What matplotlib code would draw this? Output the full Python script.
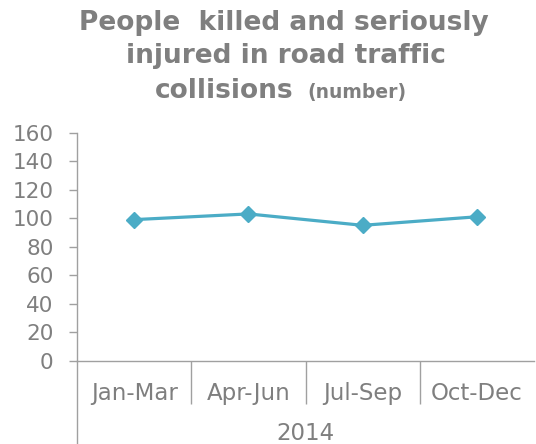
import matplotlib
matplotlib.use("Agg")
import matplotlib.pyplot as plt
from matplotlib.lines import Line2D
from matplotlib.transforms import blended_transform_factory

categories = ["Jan-Mar", "Apr-Jun", "Jul-Sep", "Oct-Dec"]
values = [99, 103, 95, 101]
year_label = "2014"
yticks = [0, 20, 40, 60, 80, 100, 120, 140, 160]

title_lines = ["People  killed and seriously", "injured in road traffic", "collisions"]
title_unit = "(number)"

W, H, DPI = 536, 444, 100
TEXT = "#7f7f7f"
AXIS = "#a0a0a0"
LINE = "#4bacc6"
FONT = "DejaVu Sans"

fig = plt.figure(figsize=(W / DPI, H / DPI), dpi=DPI)
fig.patch.set_facecolor("white")

x0, x1 = 77, 534
y0, y1 = 360.7, 132.7
ax = fig.add_axes([x0 / W, 1 - y0 / H, (x1 - x0) / W, (y0 - y1) / H])

xs = list(range(len(categories)))
ax.plot(xs, values, color=LINE, lw=2.3, marker="D", markersize=8.5,
        markerfacecolor=LINE, markeredgecolor=LINE, clip_on=False, zorder=3)

ax.set_xlim(-0.5, len(categories) - 0.5)
ax.set_ylim(0, 160)
ax.set_yticks(yticks)
ax.set_yticklabels([str(v) for v in yticks], fontsize=15.5, color=TEXT, family=FONT)
ax.tick_params(axis="y", length=5.5, width=1, color=AXIS, pad=11.5)

ax.set_xticks(xs)
ax.set_xticklabels([])
ax.tick_params(axis="x", which="major", length=0)
ax.set_xticks([i + 0.5 for i in xs[:-1]], minor=True)
ax.tick_params(axis="x", which="minor", length=31, width=1, color=AXIS, direction="out")

for s in ["top", "right"]:
    ax.spines[s].set_visible(False)
for s in ["left", "bottom"]:
    ax.spines[s].set_color(AXIS)
    ax.spines[s].set_linewidth(1)

trans = blended_transform_factory(ax.transData, ax.transAxes)
ph = y0 - y1
for i, c in enumerate(categories):
    ax.text(i, (y0 - 393) / ph, c, transform=trans, ha="center", va="center",
            fontsize=16.5, color=TEXT, family=FONT)
ax.text(0.5, (y0 - 433) / ph, year_label, transform=ax.transAxes, ha="center",
        va="center", fontsize=16.5, color=TEXT, family=FONT)

# left axis line continues down through the category area
fig.add_artist(Line2D([x0 / W, x0 / W], [0, 1 - y0 / H], color=AXIS, lw=1))

# title
fig.text(284 / W, 1 - 30 / H, title_lines[0], ha="center", va="baseline",
         fontsize=19, fontweight="bold", color=TEXT, family=FONT)
fig.text(286 / W, 1 - 63 / H, title_lines[1], ha="center", va="baseline",
         fontsize=19, fontweight="bold", color=TEXT, family=FONT)
t3 = fig.text(0, 1 - 98 / H, title_lines[2], ha="left", va="baseline",
              fontsize=19, fontweight="bold", color=TEXT, family=FONT)
t4 = fig.text(0, 1 - 98 / H, title_unit, ha="left", va="baseline",
              fontsize=13.5, fontweight="bold", color=TEXT, family=FONT)
fig.canvas.draw()
r = fig.canvas.get_renderer()
w3 = t3.get_window_extent(r).width
w4 = t4.get_window_extent(r).width
gap = 14
total = w3 + gap + w4
left = 281 - total / 2
t3.set_x(left / W)
t4.set_x((left + w3 + gap) / W)

fig.savefig("out.png", dpi=DPI, facecolor="white")
